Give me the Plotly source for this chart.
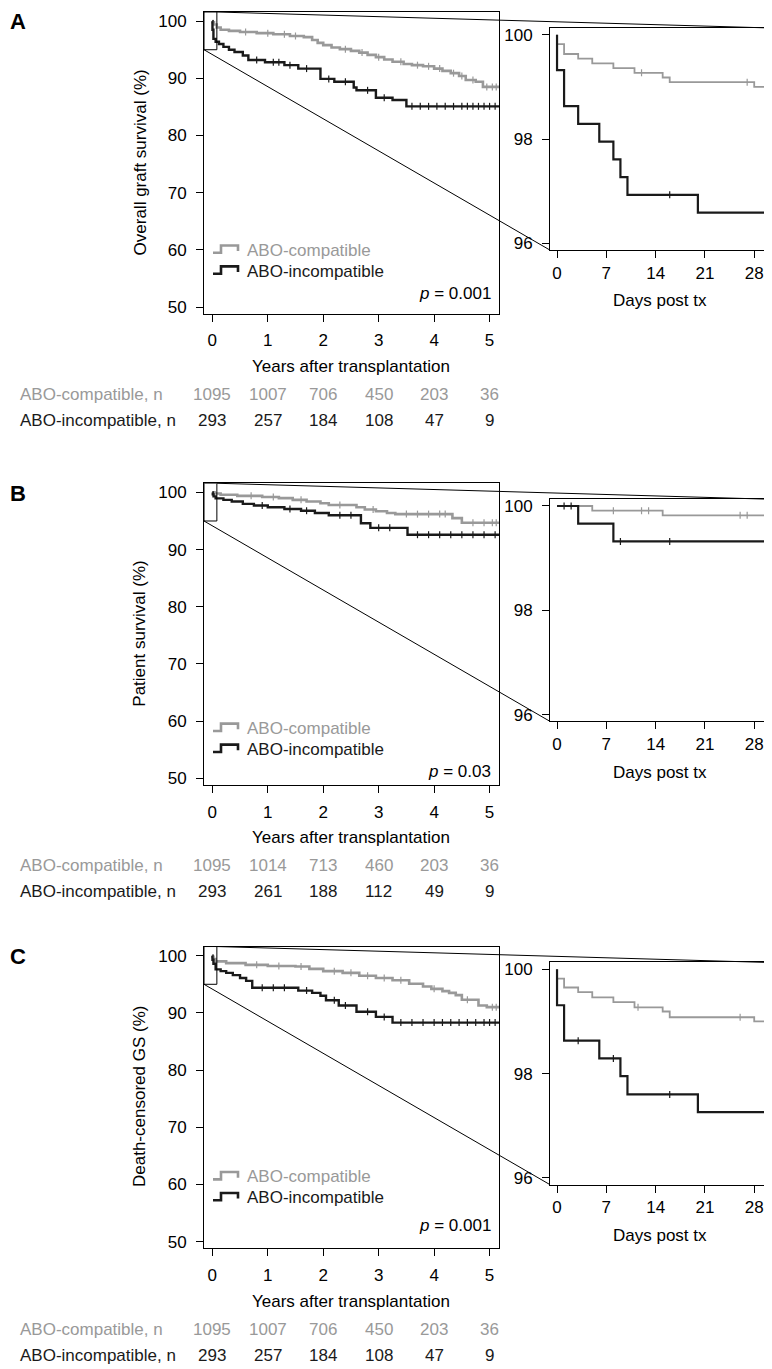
import plotly.graph_objects as go

# ---------------- data ----------------
years_ticks = [0, 1, 2, 3, 4, 5]
days_ticks = [0, 7, 14, 21, 28]

# Panel A: overall graft survival (years, %)
A_comp_t = [0, 0.005, 0.03, 0.08, 0.15, 0.3, 0.5, 0.8, 1.1, 1.4, 1.65, 1.8, 1.9, 2.0, 2.15, 2.3, 2.5, 2.65,
            2.8, 2.95, 3.1, 3.25, 3.45, 3.6, 3.8, 4.0, 4.15, 4.3, 4.45, 4.57, 4.75, 4.88, 5.17]
A_comp_s = [100, 99.8, 99.4, 98.9, 98.5, 98.3, 98.1, 97.9, 97.7, 97.4, 97.2, 96.7, 96.2, 95.8, 95.4, 95.1, 94.8, 94.5,
            94.1, 93.7, 93.3, 92.9, 92.5, 92.3, 92.1, 91.7, 91.3, 90.9, 90.4, 89.7, 89.4, 88.5, 88.5]
A_inc_t = [0, 0.003, 0.02, 0.06, 0.12, 0.2, 0.3, 0.4, 0.55, 0.65, 0.95, 1.3, 1.55, 1.95, 2.2, 2.55, 2.6, 2.95,
           3.25, 3.5, 5.17]
A_inc_s = [100, 98.5, 96.9, 96.4, 96.0, 95.5, 95.0, 94.6, 94.0, 93.2, 92.8, 92.3, 91.7, 89.9, 89.4, 88.4, 87.9, 86.6,
           86.2, 85.1, 85.1]
A_comp_cens = [0.6, 1.0, 1.3, 1.5, 2.4, 2.7, 3.0, 3.4, 3.7, 3.9, 4.1, 4.35, 4.5, 4.7, 4.95, 5.05, 5.12]
A_inc_cens = [0.8, 1.1, 1.2, 1.4, 1.7, 2.1, 2.4, 2.8, 3.1, 3.6, 3.75, 3.9, 4.05, 4.2, 4.35, 4.5, 4.6, 4.7, 4.8,
              4.9, 5.0, 5.1]
# Panel A inset (days, %)
A_comp_dt = [0, 0, 1, 3, 5, 8, 11, 15, 16, 28, 30.1]
A_comp_ds = [100, 99.82, 99.63, 99.54, 99.45, 99.36, 99.27, 99.18, 99.09, 99.00, 99.00]
A_inc_dt = [0, 0, 1, 3, 6, 8, 9, 10, 20, 30.1]
A_inc_ds = [100, 99.32, 98.63, 98.29, 97.95, 97.61, 97.27, 96.93, 96.59, 96.59]
A_comp_dcens = [12, 27]
A_inc_dcens = [16]

# Panel B: patient survival
B_comp_t = [0, 0.04, 0.15, 0.45, 0.9, 1.2, 1.45, 1.7, 1.95, 2.1, 2.6, 2.75, 2.95, 3.15, 3.3, 4.33, 4.5, 5.17]
B_comp_s = [100, 99.8, 99.6, 99.4, 99.2, 99.0, 98.7, 98.4, 98.1, 97.8, 97.4, 97.0, 96.7, 96.4, 96.2, 95.5, 94.7, 94.7]
B_inc_t = [0, 0.008, 0.022, 0.06, 0.2, 0.35, 0.55, 0.75, 1.0, 1.3, 1.6, 1.85, 2.1, 2.68, 2.85, 3.52, 5.17]
B_inc_s = [100, 99.66, 99.3, 98.96, 98.7, 98.4, 98.0, 97.7, 97.4, 97.1, 96.8, 96.4, 96.0, 94.6, 93.8, 92.6, 92.6]
B_comp_cens = [0.7, 1.1, 1.6, 2.3, 2.9, 3.5, 3.7, 3.9, 4.1, 4.2, 4.7, 4.9, 5.05, 5.12]
B_inc_cens = [0.9, 1.4, 1.7, 2.3, 2.5, 3.0, 3.2, 3.7, 3.9, 4.1, 4.3, 4.5, 4.7, 4.9, 5.1]
B_comp_dt = [0, 5, 15, 30.1]
B_comp_ds = [100, 99.91, 99.82, 99.82]
B_inc_dt = [0, 3, 8, 30.1]
B_inc_ds = [100, 99.66, 99.32, 99.32]
B_comp_dcens = [8, 12, 13, 26, 27]
B_inc_dcens = [1, 2, 9, 16]

# Panel C: death-censored graft survival
C_comp_t = [0, 0.003, 0.02, 0.06, 0.25, 0.6, 1.0, 1.5, 1.75, 2.0, 2.35, 2.65, 2.95, 3.25, 3.55, 3.8, 3.95, 4.15,
            4.27, 4.39, 4.5, 4.8, 4.95, 5.17]
C_comp_s = [100, 99.8, 99.4, 99.0, 98.7, 98.4, 98.2, 98.1, 97.7, 97.3, 97.0, 96.5, 96.1, 95.7, 95.1, 94.6, 94.2, 93.8,
            93.5, 93.1, 92.3, 91.3, 91.0, 91.0]
C_inc_t = [0, 0.003, 0.02, 0.06, 0.15, 0.25, 0.37, 0.5, 0.61, 0.72, 1.55, 1.8, 1.95, 2.05, 2.28, 2.6, 2.95, 3.25, 5.17]
C_inc_s = [100, 99.3, 98.6, 97.6, 97.3, 97.0, 96.6, 96.1, 95.6, 94.4, 93.9, 93.5, 93.0, 92.2, 91.3, 90.2, 89.3, 88.3,
           88.3]
C_comp_cens = [0.8, 1.2, 1.6, 2.2, 2.5, 2.8, 3.1, 3.4, 4.0, 4.6, 5.05, 5.12]
C_inc_cens = [0.9, 1.1, 1.3, 1.7, 2.2, 2.4, 2.8, 3.1, 3.4, 3.6, 3.8, 4.0, 4.15, 4.3, 4.45, 4.6, 4.75, 4.9, 5.0, 5.1]
C_comp_dt = [0, 0, 1, 3, 5, 8, 11, 15, 16, 28, 30.1]
C_comp_ds = [100, 99.82, 99.65, 99.56, 99.46, 99.37, 99.27, 99.19, 99.08, 99.0, 99.0]
C_inc_dt = [0, 0, 1, 6, 9, 10, 20, 30.1]
C_inc_ds = [100, 99.31, 98.63, 98.29, 97.95, 97.6, 97.26, 97.26]
C_comp_dcens = [11.5, 26]
C_inc_dcens = [3, 8, 16]

# numbers at risk
A_risk_comp = [1095, 1007, 706, 450, 203, 36]
A_risk_inc = [293, 257, 184, 108, 47, 9]
B_risk_comp = [1095, 1014, 713, 460, 203, 36]
B_risk_inc = [293, 261, 188, 112, 49, 9]
C_risk_comp = [1095, 1007, 706, 450, 203, 36]
C_risk_inc = [293, 257, 184, 108, 47, 9]

panel_letters = ["A", "B", "C"]
y_titles = ["Overall graft survival (%)", "Patient survival (%)", "Death-censored GS (%)"]
p_values = ["0.001", "0.03", "0.001"]
group_names = ["ABO-compatible", "ABO-incompatible"]

# ---------------- layout geometry ----------------
PAGE_PAD = 8                      # default body margin of the html page
W, H = 772 - PAGE_PAD, 1369 - PAGE_PAD
GRAY = "#999999"
BLACK = "#1a1a1a"
FONT = "Liberation Sans, Arial, Helvetica, sans-serif"
FS = 17

OFF = [0, 473, 938]
MAIN_X_PX = (204, 499)
MAIN_Y_PX = (10, 313)
INS_X_PX = (550, 769)
INS_Y_PX = (26, 249)
MAIN_XR = [-0.15, 5.17]
MAIN_YR = [48.8, 101.6]
INS_XR = [-1, 30.1]
INS_YR = [95.87, 100.13]
ZOOM_DAYS = 30 / 365.25
ZOOM_YLOW = 95


def pxx(p):
    return (p - PAGE_PAD) / W


def pxy(p):
    return 1 - (p - PAGE_PAD) / H


def to_paper(v, rng, dom):
    return dom[0] + (v - rng[0]) / (rng[1] - rng[0]) * (dom[1] - dom[0])


def step_at(ts, ss, t):
    val = ss[0]
    for ti, si in zip(ts, ss):
        if ti <= t:
            val = si
    return val


panels = [
    dict(comp=(A_comp_t, A_comp_s, A_comp_cens), inc=(A_inc_t, A_inc_s, A_inc_cens),
         dcomp=(A_comp_dt, A_comp_ds, A_comp_dcens), dinc=(A_inc_dt, A_inc_ds, A_inc_dcens),
         risk=(A_risk_comp, A_risk_inc), leg=(249, 270), p=293),
    dict(comp=(B_comp_t, B_comp_s, B_comp_cens), inc=(B_inc_t, B_inc_s, B_inc_cens),
         dcomp=(B_comp_dt, B_comp_ds, B_comp_dcens), dinc=(B_inc_dt, B_inc_ds, B_inc_dcens),
         risk=(B_risk_comp, B_risk_inc), leg=(256, 277), p=299),
    dict(comp=(C_comp_t, C_comp_s, C_comp_cens), inc=(C_inc_t, C_inc_s, C_inc_cens),
         dcomp=(C_comp_dt, C_comp_ds, C_comp_dcens), dinc=(C_inc_dt, C_inc_ds, C_inc_dcens),
         risk=(C_risk_comp, C_risk_inc), leg=(241, 262), p=290),
]

fig = go.Figure()
layout = dict(width=W, height=H, margin=dict(l=0, r=0, t=0, b=0), paper_bgcolor="white",
              plot_bgcolor="white", showlegend=False, font=dict(family=FONT, size=FS, color="black"))
annotations = []
shapes = []

axis_common = dict(showline=True, linecolor="black", linewidth=1, mirror=True, ticks="outside", ticklen=7,
                   tickwidth=1, tickcolor="black", showgrid=False, zeroline=False,
                   tickfont=dict(family=FONT, size=FS, color="black"), fixedrange=True)


def add_curve(xa, ya, t, s, cens, color, width, msize):
    fig.add_trace(go.Scatter(x=t, y=s, mode="lines", line=dict(shape="hv", color=color, width=width),
                             xaxis=xa, yaxis=ya, hoverinfo="skip"))
    fig.add_trace(go.Scatter(x=cens, y=[step_at(t, s, c) for c in cens], mode="markers",
                             marker=dict(symbol="line-ns", size=msize, line=dict(color=color, width=1.2)),
                             xaxis=xa, yaxis=ya, hoverinfo="skip"))


for i, pan in enumerate(panels):
    off = OFF[i]
    nm, ni = 2 * i + 1, 2 * i + 2
    xm = "x" if nm == 1 else f"x{nm}"
    ym = "y" if nm == 1 else f"y{nm}"
    xi, yi = f"x{ni}", f"y{ni}"
    mxd = [pxx(MAIN_X_PX[0]), pxx(MAIN_X_PX[1])]
    myd = [pxy(MAIN_Y_PX[1] + off), pxy(MAIN_Y_PX[0] + off)]
    ixd = [pxx(INS_X_PX[0]), pxx(INS_X_PX[1])]
    iyd = [pxy(INS_Y_PX[1] + off), pxy(INS_Y_PX[0] + off)]

    layout["xaxis" if nm == 1 else f"xaxis{nm}"] = dict(axis_common, domain=mxd, range=MAIN_XR, anchor=ym,
                                                         tickvals=years_ticks, ticklabelstandoff=4)
    layout["yaxis" if nm == 1 else f"yaxis{nm}"] = dict(axis_common, domain=myd, range=MAIN_YR, anchor=xm,
                                                         tickvals=[50, 60, 70, 80, 90, 100], ticklabelstandoff=6)
    layout[f"xaxis{ni}"] = dict(axis_common, domain=ixd, range=INS_XR, anchor=yi, tickvals=days_ticks,
                                ticklabelstandoff=0)
    layout[f"yaxis{ni}"] = dict(axis_common, domain=iyd, range=INS_YR, anchor=xi, tickvals=[96, 98, 100],
                                ticklabelstandoff=6)

    # curves
    add_curve(xm, ym, *pan["comp"], GRAY, 2.6, 5)
    add_curve(xm, ym, *pan["inc"], BLACK, 2.4, 5)
    add_curve(xi, yi, *pan["dcomp"], GRAY, 1.8, 5)
    add_curve(xi, yi, *pan["dinc"], BLACK, 2.2, 5)

    # zoom rectangle and connectors
    shapes.append(dict(type="rect", xref=xm, yref=ym, x0=MAIN_XR[0], x1=ZOOM_DAYS, y0=ZOOM_YLOW, y1=MAIN_YR[1],
                       line=dict(color="black", width=1), fillcolor="rgba(0,0,0,0)"))
    shapes.append(dict(type="line", xref="paper", yref="paper",
                       x0=to_paper(ZOOM_DAYS, MAIN_XR, mxd), y0=to_paper(MAIN_YR[1], MAIN_YR, myd),
                       x1=to_paper(INS_XR[1], INS_XR, ixd), y1=to_paper(INS_YR[1], INS_YR, iyd),
                       line=dict(color="black", width=1)))
    shapes.append(dict(type="line", xref="paper", yref="paper",
                       x0=to_paper(MAIN_XR[0], MAIN_XR, mxd), y0=to_paper(ZOOM_YLOW, MAIN_YR, myd),
                       x1=to_paper(INS_XR[0], INS_XR, ixd), y1=to_paper(INS_YR[0], INS_YR, iyd),
                       line=dict(color="black", width=1)))

    # panel letter
    annotations.append(dict(text=f"<b>{panel_letters[i]}</b>", x=0, y=pxy(20 + off), xref="paper",
                            yref="paper", xanchor="left", yanchor="middle", showarrow=False,
                            font=dict(size=22, color="black", family=FONT)))
    # y title
    annotations.append(dict(text=y_titles[i], x=pxx(140), y=pxy(161 + off), xref="paper", yref="paper",
                            textangle=-90, xanchor="center", yanchor="middle", showarrow=False,
                            font=dict(size=FS, color="black", family=FONT)))
    # x titles
    annotations.append(dict(text="Years after transplantation", x=pxx(351), y=pxy(366 + off), xref="paper",
                            yref="paper", xanchor="center", yanchor="middle", showarrow=False))
    annotations.append(dict(text="Days post tx", x=pxx(660), y=pxy(300 + off), xref="paper", yref="paper",
                            xanchor="center", yanchor="middle", showarrow=False))
    # p-value
    annotations.append(dict(text=f"<i>p</i> = {p_values[i]}", x=pxx(493), y=pxy(pan["p"] + off), xref="paper",
                            yref="paper", xanchor="right", yanchor="middle", showarrow=False))
    # legend
    for j, (name, col) in enumerate(zip(group_names, [GRAY, BLACK])):
        yc = pan["leg"][j] + off
        path = (f"M {pxx(213)} {pxy(yc + 2.7)} L {pxx(221)} {pxy(yc + 2.7)} L {pxx(221)} {pxy(yc - 4.7)} "
                f"L {pxx(238)} {pxy(yc - 4.7)} L {pxx(238)} {pxy(yc + 1)}")
        shapes.append(dict(type="path", xref="paper", yref="paper", path=path, line=dict(color=col, width=2.6)))
        annotations.append(dict(text=name, x=pxx(245), y=pxy(yc), xref="paper", yref="paper", xanchor="left",
                                yanchor="middle", showarrow=False, font=dict(size=FS, color=col, family=FONT)))
    # numbers at risk
    for j, (name, col) in enumerate(zip(group_names, [GRAY, BLACK])):
        yr = [394, 420][j] + off
        annotations.append(dict(text=f"{name}, n", x=pxx(18), y=pxy(yr), xref="paper", yref="paper",
                                xanchor="left", yanchor="middle", showarrow=False,
                                font=dict(size=FS, color=col, family=FONT)))
        for k, n in zip(years_ticks, pan["risk"][j]):
            annotations.append(dict(text=str(n), x=k, y=pxy(yr), xref=xm, yref="paper", xanchor="center",
                                    yanchor="middle", showarrow=False,
                                    font=dict(size=FS, color=col, family=FONT)))

layout["annotations"] = annotations
layout["shapes"] = shapes
fig.update_layout(**layout)
fig.write_html("out.html")
